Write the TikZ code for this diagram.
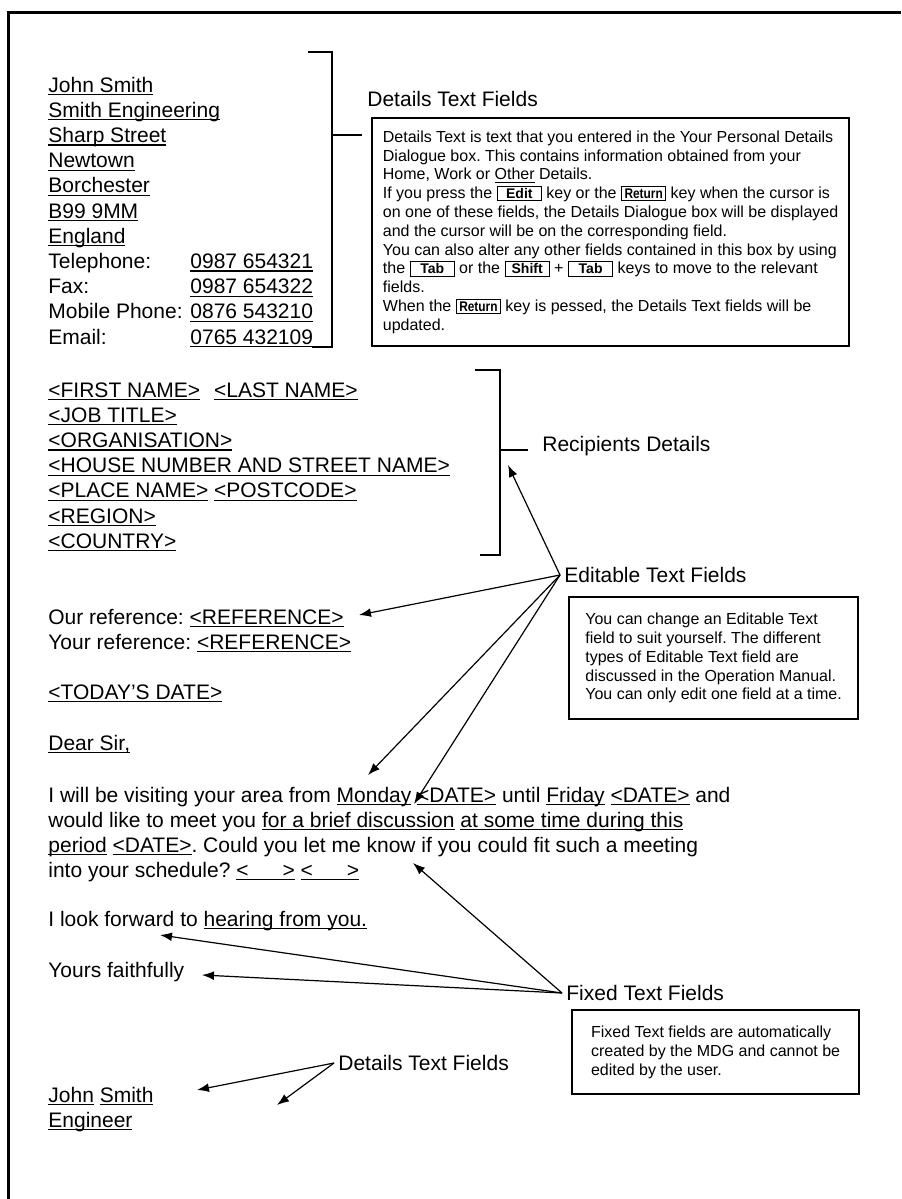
\documentclass[tikz,border=0pt]{standalone}
\usepackage{fontspec}
\setmainfont{Liberation Sans}
\usetikzlibrary{arrows.meta}
\frenchspacing
\setlength{\fboxsep}{0.8pt}
\setlength{\fboxrule}{0.5pt}
\newcommand{\keycap}[2][20pt]{\fbox{\makebox[#1]{\fontsize{7}{7}\selectfont\bfseries #2}}}
\newcommand{\undl}[1]{\setbox0\hbox{#1}\rlap{\rule[-1.6pt]{\wd0}{0.65pt}}\box0\relax}

\begin{document}
\begin{tikzpicture}[x=0.5pt, y=-0.5pt]
        \tikzstyle{lettertext}=[anchor=base west, inner sep=0pt, font=\fontsize{10.5}{12.5}\selectfont]
        \tikzstyle{fieldtag}=[anchor=west, inner sep=2pt, font=\fontsize{10.5}{12.5}\selectfont]
        \tikzstyle{notebox}=[draw, line width=1.1pt, anchor=north west, align=left, inner sep=0pt, font=\fontsize{8}{9.4}\selectfont]
        \tikzstyle{pointer}=[line width=0.6pt, -{Latex[length=6pt, width=4.4pt]}]
        \tikzstyle{bracket}=[line width=1pt]
        \useasboundingbox (0,0) rectangle (901,1199);
        % page edge
        \draw[line width=1.5pt] (901,12) -- (8,12) -- (8,1199);
        % sender
        \foreach \t [count=\i] in {John Smith, Smith Engineering, Sharp Street, Newtown, Borchester, B99 9MM, England}
            \node[lettertext] (snd\i) at (48,{66.8+25.2*\i}) {\undl{\t}};
        \node[lettertext] (snd8) at (48,268.4) {\makebox[71pt][l]{Telephone:}\undl{0987 654321}};
        \node[lettertext] (snd9) at (48,293.6) {\makebox[71pt][l]{Fax:}\undl{0987 654322}};
        \node[lettertext] (snd10) at (48,318.8) {\makebox[71pt][l]{Mobile Phone:}\undl{0876 543210}};
        \node[lettertext] (snd11) at (48,344) {\makebox[71pt][l]{Email:}\undl{0765 432109}};
        \draw[bracket] (308,52) -- (332,52) -- (332,347) -- (312,347) (332,135) -- (362,135);
        \node[fieldtag, anchor=base west] (dtf) at (363,106) {Details Text Fields};
        \node[notebox, minimum width=238.5pt, minimum height=114pt] (dtbox) at (371,117) {Details Text is text that you entered in the Your Personal Details\\
            Dialogue box. This contains information obtained from your\\
            Home, Work or \undl{Other} Details.\\
            If you press the \keycap{Edit} key or the \keycap{\scalebox{0.85}[1]{Return}} key when the cursor is\\
            on one of these fields, the Details Dialogue box will be displayed\\
            and the cursor will be on the corresponding field.\\
            You can also alter any other fields contained in this box by using\\
            the \keycap{Tab} or the \keycap{Shift} + \keycap{Tab} keys to move to the relevant\\
            fields.\\
            When the \keycap{\scalebox{0.85}[1]{Return}} key is pessed, the Details Text fields will be\\
            updated.};
        % recipient
        \foreach \t [count=\i] in {{\undl{<FIRST NAME>}\hspace{7pt}\undl{<LAST NAME>}}, \undl{<JOB TITLE>}, \undl{<ORGANISATION>}, \undl{<HOUSE NUMBER AND STREET NAME>}, {\undl{<PLACE NAME>} \undl{<POSTCODE>}}, \undl{<REGION>}, \undl{<COUNTRY>}}
            \node[lettertext] (rcp\i) at (48,{371.8+25.2*\i}) {\t};
        \draw[bracket] (475,370) -- (500,370) -- (500,555) -- (480,555) (500,450) -- (528,450);
        \node[fieldtag] (rcpd) at (538,446) {Recipients Details};
        % letter
        \node[lettertext] (ourref) at (48,624) {Our reference: \undl{<REFERENCE>}};
        \node[lettertext] (yourref) at (48,649) {Your reference: \undl{<REFERENCE>}};
        \node[lettertext] (today) at (48,699) {\undl{<TODAY'S DATE>}};
        \node[lettertext] (dear) at (48,750) {\undl{Dear Sir,}};
        \node[lettertext] (body1) at (48,802) {I will be visiting your area from \undl{Monday} \undl{<DATE>} until \undl{Friday} \undl{<DATE>} and};
        \node[lettertext] (body2) at (48,827) {would like to meet you \undl{for a brief discussion} \undl{at some time during this}};
        \node[lettertext] (body3) at (48,852) {\undl{period} \undl{<DATE>}. Could you let me know if you could fit such a meeting};
        \node[lettertext] (body4) at (48,877) {into your schedule? \undl{<\hspace{17pt}>} \undl{<\hspace{17pt}>}};
        \node[lettertext] (fwd) at (48,926) {I look forward to \undl{hearing from you.}};
        \node[lettertext] (yours) at (48,977) {Yours faithfully};
        \node[lettertext] (sign1) at (48,1102) {\undl{John} \undl{Smith}};
        \node[lettertext] (sign2) at (48,1127) {\undl{Engineer}};
        % editable fields
        \node[fieldtag] (edt) at (560,575) {Editable Text Fields};
        \node[notebox, minimum width=144.5pt, minimum height=61pt] (edbox) at (568,596) {You can change an Editable Text\\
            field to suit yourself. The different\\
            types of Editable Text field are\\
            discussed in the Operation Manual.\\
            You can only edit one field at a time.};
        % fixed fields
        \node[fieldtag] (fxd) at (562,993) {Fixed Text Fields};
        \node[notebox, minimum width=143.5pt, minimum height=42pt] (fxbox) at (571,1009) {Fixed Text fields are automatically\\
            created by the MDG and cannot be\\
            edited by the user.};
        \node[fieldtag] (dtl) at (334,1063) {Details Text Fields};
        % pointers
        \coordinate (tipRcp) at (508,465);
        \coordinate (tipRef) at (359,615);
        \coordinate (tipMon) at (368,775);
        \coordinate (tipDisc) at (414,804);
        \coordinate (tipMeet) at (413,863);
        \coordinate (tipFwd) at (160,935);
        \coordinate (tipYours) at (202,975);
        \coordinate (tipName) at (197,1090);
        \coordinate (tipJob) at (277,1105);
        \foreach \t in {tipRcp, tipRef, tipMon, tipDisc} \draw[pointer] (edt.west) -- (\t);
        \foreach \t in {tipMeet, tipFwd, tipYours} \draw[pointer] (fxd.west) -- (\t);
        \foreach \t in {tipName, tipJob} \draw[pointer] (dtl.west) -- (\t);
    \end{tikzpicture}
\end{document}
